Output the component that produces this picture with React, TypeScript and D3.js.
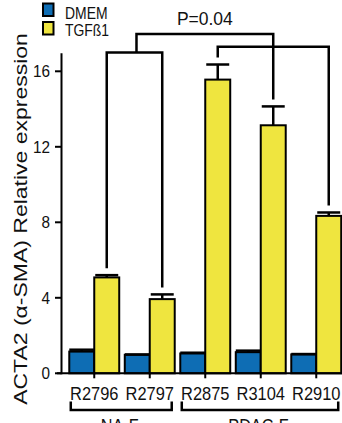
import * as d3 from 'd3';

const groups = ['R2796', 'R2797', 'R2875', 'R3104', 'R2910'];
const dmem = [1.15, 0.98, 1.05, 1.12, 1.0];
const dmemErr = [0.1, 0.02, 0.04, 0.08, 0.02];
const tgf = [5.08, 3.93, 15.56, 13.14, 8.34];
const tgfErr = [0.12, 0.25, 0.8, 1.0, 0.18];
const yTicks = [0, 4, 8, 12, 16];
const seriesNames = ['DMEM', 'TGFß1'];
const cohorts = [
  { name: 'NA-F', from: 0, to: 1 },
  { name: 'PDAC-F', from: 2, to: 4 },
];

const BLUE = '#0e6db4';
const YELLOW = '#efe53f';
const FONT = '"Liberation Sans", Arial, sans-serif';

export default function App() {
  const width = 342;
  const height = 423;

  const x = d3.scaleBand<string>().domain(groups).range([66.5, 344]).paddingInner(0.1).paddingOuter(0.05);
  const y = d3.scaleLinear().domain([0, 16]).range([373.3, 71.3]);
  const bw = x.bandwidth();
  const half = bw / 2;
  const xAxisY = y(0);

  const tgfCenter = (i: number) => (x(groups[i]) as number) + half + half / 2;
  const capTop = (i: number) => y(tgf[i] + tgfErr[i]);
  const gap = 7;

  // significance brackets
  const naLeft = tgfCenter(0);
  const naRight = tgfCenter(1);
  const naTop = y(17.0);
  const naMid = (naLeft + naRight) / 2 + 2;
  const pdTop = y(17.3);
  const topY = y(17.97);
  const pdA = tgfCenter(2);
  const pdB = tgfCenter(3);
  const pdC = tgfCenter(4);

  const bracketPath = [
    `M${naLeft},${capTop(0) - gap}V${naTop}H${naRight}V${capTop(1) - gap}`,
    `M${naMid},${naTop}V${topY}H${pdB}V${capTop(3) - gap}`,
    `M${pdA},${capTop(2) - gap}V${pdTop}H${pdC}V${capTop(4) - gap}`,
  ].join('');

  return (
    <svg width={width} height={height} style={{ position: 'absolute', left: 0, top: 0 }} fontFamily={FONT}>
      <rect width={width} height={height} fill="#fff" />

      {/* y label */}
      <text
        transform={`translate(26.7,219) scale(0.82,1) rotate(-90)`}
        textAnchor="middle"
        fontSize={23}
        fill="#111"
      >
        ACTA2 (α-SMA) Relative expression
      </text>

      {/* legend */}
      {seriesNames.map((s, i) => (
        <g key={s}>
          <rect x={43} y={3.5 + i * 18.5} width={10.5} height={12.5} fill={i === 0 ? BLUE : YELLOW} stroke="#000" strokeWidth={2} />
          <text transform={`translate(65,${19 + i * 17}) scale(0.82,1)`} fontSize={17} fill="#111">
            {s}
          </text>
        </g>
      ))}

      {/* bars */}
      {groups.map((g, i) => {
        const x0 = x(g) as number;
        return (
          <g key={g}>
            <rect x={x0} y={y(dmem[i])} width={half} height={xAxisY - y(dmem[i])} fill={BLUE} stroke="#000" strokeWidth={2} />
            <line x1={x0} x2={x0 + half} y1={y(dmem[i] + dmemErr[i])} y2={y(dmem[i] + dmemErr[i])} stroke="#000" strokeWidth={2.5} />
            <line x1={x0 + half / 2} x2={x0 + half / 2} y1={y(dmem[i])} y2={y(dmem[i] + dmemErr[i])} stroke="#000" strokeWidth={2.5} />
            <rect x={x0 + half} y={y(tgf[i])} width={half} height={xAxisY - y(tgf[i])} fill={YELLOW} stroke="#000" strokeWidth={2} />
            <line x1={x0 + half / 2 + half} x2={x0 + half / 2 + half} y1={y(tgf[i])} y2={capTop(i)} stroke="#000" strokeWidth={2.5} />
            <line x1={x0 + half + 1} x2={x0 + bw - 1} y1={capTop(i)} y2={capTop(i)} stroke="#000" strokeWidth={2.5} />
          </g>
        );
      })}

      {/* y axis */}
      <line x1={61.5} x2={61.5} y1={y(16.95)} y2={xAxisY + 1} stroke="#000" strokeWidth={2} />
      {yTicks.map(t => (
        <g key={t}>
          <line x1={55} x2={61.5} y1={y(t)} y2={y(t)} stroke="#000" strokeWidth={2} />
          <text transform={`translate(50,${y(t)}) scale(0.9,1)`} dy="0.36em" textAnchor="end" fontSize={17} fill="#111">
            {t}
          </text>
        </g>
      ))}

      {/* x axis */}
      <line x1={57} x2={width} y1={xAxisY} y2={xAxisY} stroke="#000" strokeWidth={2} />
      {groups.map(g => {
        const cx = (x(g) as number) + half;
        return (
          <g key={g}>
            <line x1={cx} x2={cx} y1={xAxisY} y2={xAxisY + 5} stroke="#000" strokeWidth={2} />
            <text transform={`translate(${cx},399.5) scale(0.94,1)`} textAnchor="middle" fontSize={17.5} fill="#111">
              {g}
            </text>
          </g>
        );
      })}

      {/* cohort brackets */}
      {cohorts.map(c => {
        const x0 = (x(groups[c.from]) as number) + 1.5;
        const x1 = (x(groups[c.to]) as number) + bw - 3;
        return (
          <g key={c.name}>
            <path d={`M${x0},401.5V410H${x1}V401.5`} fill="none" stroke="#000" strokeWidth={2.5} />
            <text transform={`translate(${(x0 + x1) / 2 - 1.5},431.5) scale(0.9,1)`} textAnchor="middle" fontSize={18} fill="#111">
              {c.name}
            </text>
          </g>
        );
      })}

      {/* significance */}
      <path d={bracketPath} fill="none" stroke="#000" strokeWidth={2.5} />
      <text x={(naMid + pdB) / 2} y={y(18.45)} textAnchor="middle" fontSize={17.5} fill="#111">
        P=0.04
      </text>
    </svg>
  );
}
